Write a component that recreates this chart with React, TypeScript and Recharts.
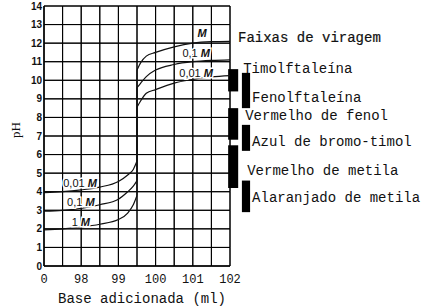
import { LineChart, Line, XAxis, YAxis, ReferenceArea, ReferenceDot } from "recharts";

// titration volumes (ml) on both sides of the equivalence jump
const acidVolume = [97, 97.5, 98, 98.5, 99, 99.25, 99.4, 99.5];
const baseVolume = [99.5, 99.6, 99.75, 100, 100.5, 101, 101.5, 102];

// pH readings per concentration
const acid1M = [1.95, 2.0, 2.1, 2.25, 2.5, 2.85, 3.3, 3.8];
const acid01M = [2.95, 3.0, 3.1, 3.3, 3.6, 4.0, 4.3, 4.6];
const acid001M = [3.95, 4.0, 4.1, 4.25, 4.55, 4.9, 5.2, 5.65];
const base1M = [10.55, 10.95, 11.3, 11.5, 11.8, 12.0, 12.08, 12.1];
const base01M = [9.6, 9.85, 10.2, 10.55, 10.85, 11.0, 11.07, 11.1];
const base001M = [8.55, 8.9, 9.3, 9.5, 9.85, 10.05, 10.18, 10.25];

const volumeTicks = [97, 97.5, 98, 98.5, 99, 99.5, 100, 100.5, 101, 101.5, 102];
const volumeLabels: Record<number, string> = { 97: "0", 98: "98", 99: "99", 100: "100", 101: "101", 102: "102" };
const phTicks = [0, 1, 2, 3, 4, 5, 6, 7, 8, 9, 10, 11, 12, 13, 14];

// indicator colour-change ranges
const indicatorNames = [
  "Timolftaleína",
  "Fenolftaleína",
  "Vermelho de fenol",
  "Azul de bromo-timol",
  "Vermelho de metila",
  "Alaranjado de metila",
];
const indicatorLow = [9.4, 8.5, 6.8, 6.2, 4.2, 2.9];
const indicatorHigh = [10.6, 10.4, 8.5, 7.6, 6.5, 4.6];

// curve tags: text, volume, pH
const tagText = ["M", "0,1 M", "0,01 M", "0,01 M", "0,1 M", "1 M"];
const tagVolume = [101.25, 101.09, 101.09, 97.97, 97.99, 97.99];
const tagPh = [12.55, 11.47, 10.4, 4.47, 3.45, 2.37];

// layout for the indicator bars (two staggered columns right of the plot)
const barColumns = [
  [101.95, 102.22],
  [102.32, 102.54],
];
const indicatorColumn = [0, 1, 0, 1, 0, 1];
const labelPlace = [
  { frac: 0, dx: 5, dy: 0 },
  { frac: 1, dx: 2, dy: -10 },
  { frac: 0, dx: 7, dy: 8 },
  { frac: 0.5, dx: 2, dy: 4 },
  { frac: 0.5, dx: 9, dy: 4 },
  { frac: 0.5, dx: 2, dy: 2 },
];

const toPoints = (vols: number[], phs: number[]) => vols.map((v, i) => ({ v, ph: phs[i] }));

const curves = [
  { key: "1m", acid: acid1M, base: base1M },
  { key: "01m", acid: acid01M, base: base01M },
  { key: "001m", acid: acid001M, base: base001M },
];

const volMin = volumeTicks[0];
const volMax = volumeTicks[volumeTicks.length - 1];
const phMin = phTicks[0];
const phMax = phTicks[phTicks.length - 1];

const mono = "'Liberation Mono', 'DejaVu Sans Mono', monospace";

function IndicatorLabel(props: any) {
  const { viewBox, text, place } = props;
  if (!viewBox) return null;
  const x = viewBox.x + viewBox.width + place.dx;
  const y = viewBox.y + viewBox.height * place.frac + place.dy;
  return (
    <text x={x} y={y} dominantBaseline="central" fontFamily={mono} fontSize={14} fill="#111">
      {text}
    </text>
  );
}

function CurveTag(props: any) {
  const { cx, cy, text } = props;
  const parts = text.split("M");
  return (
    <text
      x={cx}
      y={cy}
      textAnchor="middle"
      dominantBaseline="central"
      fontFamily="'Liberation Sans', Arial, sans-serif"
      fontSize={11}
      fill="#111"
      stroke="#fff"
      strokeWidth={3}
      paintOrder="stroke"
    >
      {parts[0]}
      <tspan fontStyle="italic" fontWeight="bold">M</tspan>
    </text>
  );
}

function PhLabel(props: any) {
  const { viewBox } = props;
  if (!viewBox) return null;
  const x = viewBox.x + 15;
  const y = viewBox.y + viewBox.height / 2 - 6;
  return (
    <text
      x={x}
      y={y}
      transform={`rotate(-90, ${x}, ${y})`}
      textAnchor="middle"
      dominantBaseline="central"
      fontFamily="'Liberation Serif', serif"
      fontSize={13}
      fill="#111"
    >
      pH
    </text>
  );
}

export default function App() {
  return (
    <div style={{ position: "absolute", left: 0, top: 0, width: 427, height: 308, background: "#fff" }}>
      <LineChart width={427} height={308} margin={{ top: 6, right: 197, bottom: 0, left: 0 }}>
        <XAxis
          type="number"
          dataKey="v"
          domain={[volMin, volMax]}
          ticks={volumeTicks}
          allowDataOverflow
          tickFormatter={(v: number) => volumeLabels[v] ?? ""}
          height={42}
          tickLine={false}
          stroke="#000"
          tick={{ fontFamily: mono, fontSize: 12, fill: "#111" }}
          label={{
            value: "Base adicionada (ml)",
            position: "insideBottom",
            offset: 5,
            dx: 5,
            fontFamily: mono,
            fontSize: 14,
            fill: "#111",
          }}
        />
        <YAxis
          type="number"
          domain={[phMin, phMax]}
          ticks={phTicks}
          width={44}
          tickLine={false}
          tickSize={0}
          tickMargin={2}
          stroke="#000"
          tick={{ fontFamily: "'Liberation Sans', Arial, sans-serif", fontSize: 10, fontWeight: "bold", fill: "#111" }}
          label={<PhLabel />}
        />
        {/* grid: pH rows and volume columns as outlined cells */}
        {phTicks.slice(0, -1).map((p, i) => (
          <ReferenceArea
            key={`row-${p}`}
            x1={volMin}
            x2={volMax}
            y1={p}
            y2={phTicks[i + 1]}
            fill="#fff"
            fillOpacity={0}
            stroke="#000"
            strokeOpacity={1}
            strokeWidth={1}
            ifOverflow="visible"
          />
        ))}
        {volumeTicks.slice(0, -1).map((v, i) => (
          <ReferenceArea
            key={`col-${v}`}
            x1={v}
            x2={volumeTicks[i + 1]}
            y1={phMin}
            y2={phMax}
            fill="#fff"
            fillOpacity={0}
            stroke="#000"
            strokeOpacity={1}
            strokeWidth={1}
            ifOverflow="visible"
          />
        ))}
        {curves.map((c) => (
          <Line
            key={`acid-${c.key}`}
            data={toPoints(acidVolume, c.acid)}
            dataKey="ph"
            type="monotone"
            stroke="#111"
            strokeWidth={1.2}
            dot={false}
            isAnimationActive={false}
          />
        ))}
        {curves.map((c) => (
          <Line
            key={`jump-${c.key}`}
            data={[
              { v: acidVolume[acidVolume.length - 1], ph: c.acid[c.acid.length - 1] },
              { v: baseVolume[0], ph: c.base[0] },
            ]}
            dataKey="ph"
            type="linear"
            stroke="#111"
            strokeWidth={1.2}
            dot={false}
            isAnimationActive={false}
          />
        ))}
        {curves.map((c) => (
          <Line
            key={`base-${c.key}`}
            data={toPoints(baseVolume, c.base)}
            dataKey="ph"
            type="monotone"
            stroke="#111"
            strokeWidth={1.2}
            dot={false}
            isAnimationActive={false}
          />
        ))}
        {indicatorNames.map((name, i) => {
          const col = barColumns[indicatorColumn[i]];
          return (
            <ReferenceArea
              key={name}
              x1={col[0]}
              x2={col[1]}
              y1={indicatorLow[i]}
              y2={indicatorHigh[i]}
              ifOverflow="visible"
              fill="#000"
              fillOpacity={1}
              stroke="none"
              label={<IndicatorLabel text={name} place={labelPlace[i]} />}
            />
          );
        })}
        {tagText.map((t, i) => (
          <ReferenceDot
            key={`tag-${i}`}
            x={tagVolume[i]}
            y={tagPh[i]}
            r={0}
            ifOverflow="visible"
            shape={(p: any) => <CurveTag {...p} text={t} />}
          />
        ))}
      </LineChart>
      <div
        style={{
          position: "absolute",
          left: 238,
          top: 30,
          fontFamily: mono,
          fontSize: 14,
          color: "#111",
          whiteSpace: "nowrap",
          lineHeight: "16px",
          WebkitTextStroke: "0.2px #111",
        }}
      >
        Faixas de viragem
      </div>
    </div>
  );
}
